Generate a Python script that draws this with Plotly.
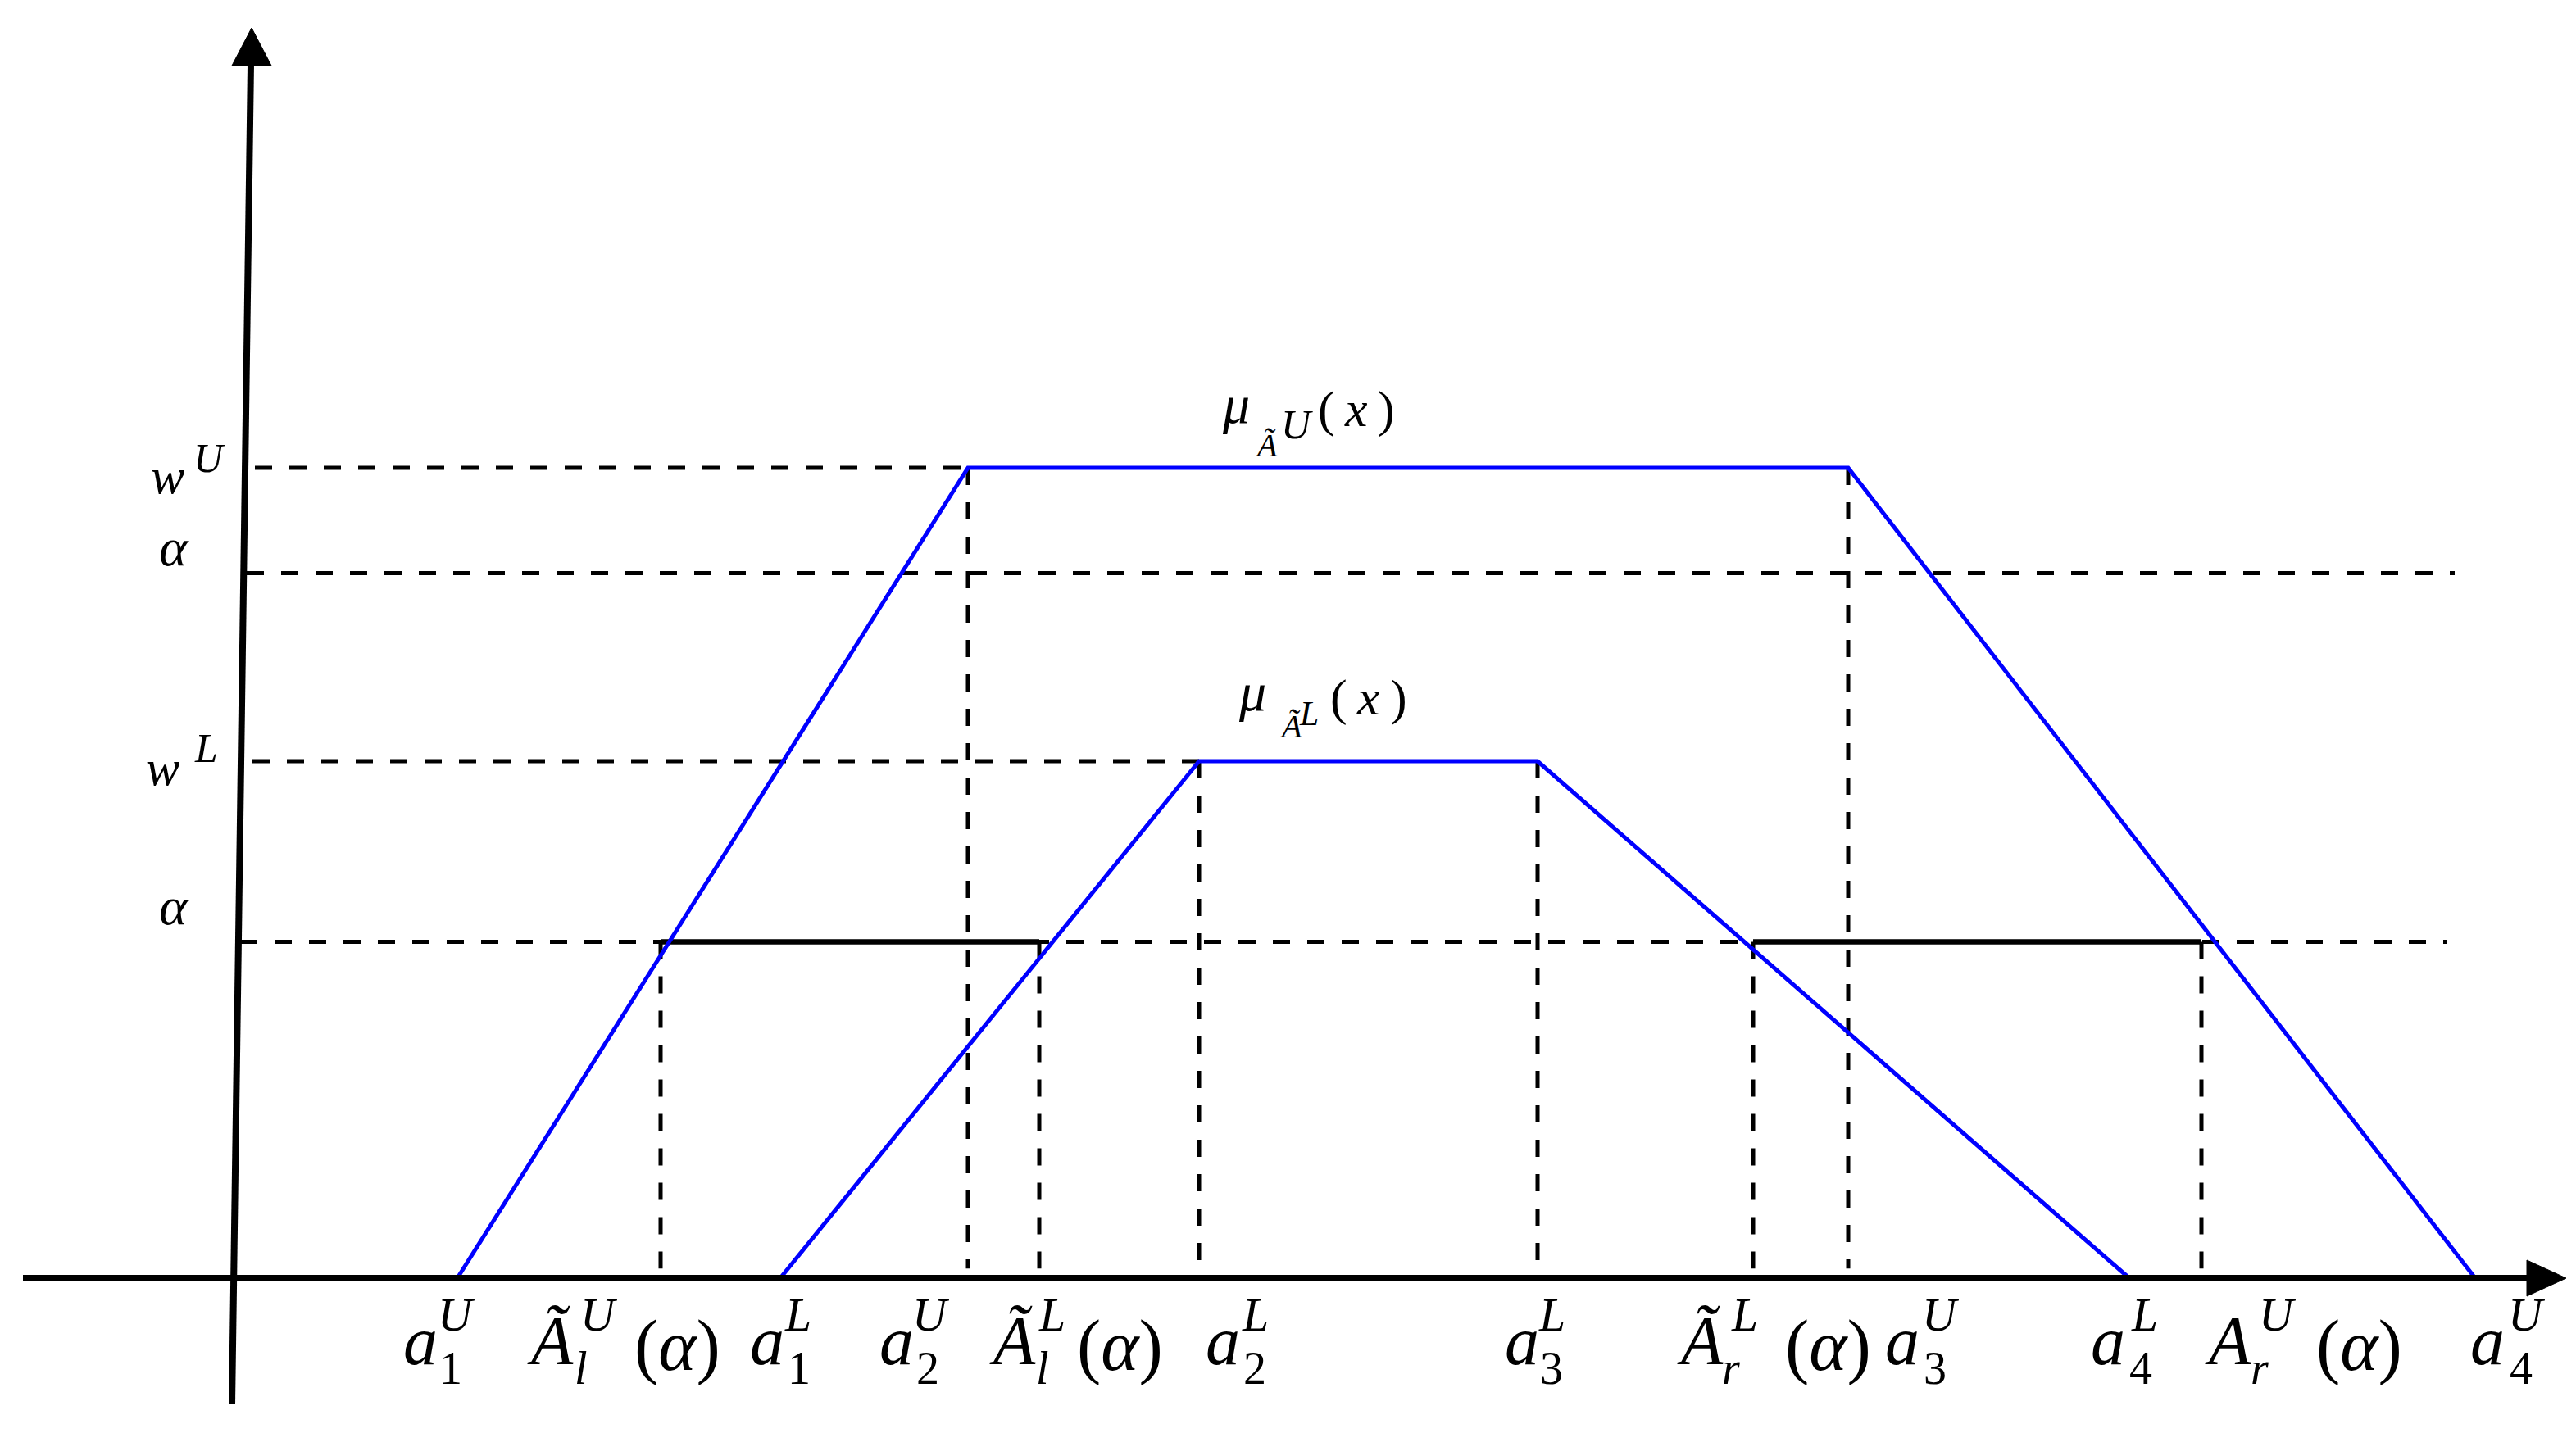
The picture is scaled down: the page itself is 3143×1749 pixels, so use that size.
"""
Interval type-2 trapezoidal fuzzy number with alpha cuts (upper / lower MF).
"""

import plotly.graph_objects as go


# --- values (x in arbitrary units, y = membership) ---
A_U = [1.35, 4.465, 9.835, 13.66]     # a1U .. a4U
A_L = [3.32, 5.875, 7.94, 11.55]      # a1L .. a4L
W_U = 1.0
W_L = 0.638
ALPHA_HI = 0.870
ALPHA_LO = 0.415
CUT_LO = [2.59, 4.90, 9.255, 11.99]   # A_l^U, A_l^L, A_r^L, A_r^U at alpha


W, H = 3143, 1749
X0, XS = 280, 200      # px of x=0, px per x unit
Y0, YS = 1552, 989     # px of y=0, px per y unit
FONT = 'Liberation Serif, Times New Roman, serif'
BLUE = '#0000ff'
DASH = '21px,21px'

px2x = lambda p: (p - X0) / XS
py2y = lambda p: (Y0 - p) / YS


fig = go.Figure()

# horizontal guide lines (levels) - dashed
levels = [W_U, ALPHA_HI, W_L, ALPHA_LO]
starts = [0.115, 0.065, 0.10, 0.025]
ends = [A_U[1], 13.535, A_L[1], 13.485]
for lv, x0, x1 in zip(levels, starts, ends):
    fig.add_trace(go.Scatter(x=[x0, x1], y=[lv, lv], mode='lines',
                             line=dict(color='black', width=5, dash=DASH)))

# vertical drop lines - dashed
drops = [(CUT_LO[0], ALPHA_LO), (A_U[1], W_U), (CUT_LO[1], ALPHA_LO), (A_L[1], W_L),
         (A_L[2], W_L), (CUT_LO[2], ALPHA_LO), (A_U[2], W_U), (CUT_LO[3], ALPHA_LO)]
for xv, lv in drops:
    fig.add_trace(go.Scatter(x=[xv, xv], y=[lv, 0.012], mode='lines',
                             line=dict(color='black', width=5, dash=DASH)))

# alpha-cut intervals - solid black
for x0, x1 in [(CUT_LO[0], CUT_LO[1]), (CUT_LO[2], CUT_LO[3])]:
    fig.add_trace(go.Scatter(x=[x0, x1], y=[ALPHA_LO, ALPHA_LO], mode='lines',
                             line=dict(color='black', width=6.5)))

# upper and lower membership functions
fig.add_trace(go.Scatter(x=A_U, y=[0, W_U, W_U, 0], mode='lines', line=dict(color=BLUE, width=5)))
fig.add_trace(go.Scatter(x=A_L, y=[0, W_L, W_L, 0], mode='lines', line=dict(color=BLUE, width=5)))


# axes with arrow heads
shapes = [
    dict(type='line', x0=px2x(20), y0=0, x1=px2x(3080), y1=0, line=dict(color='black', width=8)),
    dict(type='path', path=f'M {px2x(3075)},{py2y(Y0-22)} L {px2x(3123)},0 L {px2x(3075)},{py2y(Y0+22)} Z',
         fillcolor='black', line=dict(color='black', width=1)),
    dict(type='line', x0=px2x(275), y0=py2y(1706), x1=px2x(298), y1=py2y(70), line=dict(color='black', width=8)),
    dict(type='path', path=f'M {px2x(275)},{py2y(72)} L {px2x(299)},{py2y(26)} L {px2x(323)},{py2y(72)} Z',
         fillcolor='black', line=dict(color='black', width=1)),
]
for s in shapes:
    s.update(xref='x', yref='y', layer='above')
    fig.add_shape(**s)


def txt(s, left, base, size):
    # place text by the left edge and baseline (in pixels)
    fig.add_annotation(text=s, xref='paper', yref='paper', x=left / W,
                       y=1 - (base - 0.3375 * size) / H, xanchor='left', yanchor='middle',
                       showarrow=False, borderpad=0, borderwidth=0,
                       font=dict(family=FONT, size=size, color='black'))


# x-axis labels: base, sub, sup, suffix and their left edges
BASE, SUB, SUP, SUF = 84, 56, 58, 88
labels = [
    ('a', '1', 'U', None, 484, 528, 526, None),
    ('Ã', '<i>l</i>', 'U', '(<i>α</i>)', 635, 693, 700, 766),
    ('a', '1', 'L', None, 907, 953, 949, None),
    ('a', '2', 'U', None, 1065, 1110, 1105, None),
    ('Ã', '<i>l</i>', 'L', '(<i>α</i>)', 1199, 1256, 1259, 1306),
    ('a', '2', 'L', None, 1463, 1509, 1507, None),
    ('a', '3', 'L', None, 1828, 1871, 1869, None),
    ('Ã', '<i>r</i>', 'L', '(<i>α</i>)', 2038, 2093, 2104, 2170),
    ('a', '3', 'U', None, 2292, 2339, 2337, None),
    ('a', '4', 'L', None, 2543, 2590, 2592, None),
    ('A', '<i>r</i>', 'U', '(<i>α</i>)', 2682, 2738, 2748, 2818),
    ('a', '4', 'U', None, 3006, 3054, 3052, None),
]
for base, sub, sup, suf, xb, xs, xp, xf in labels:
    txt(f'<i>{base}</i>', xb, 1657, BASE)
    txt(sub, xs, 1681, SUB)
    txt(f'<i>{sup}</i>', xp, 1616, SUP)
    if suf:
        txt(suf, xf, 1664, SUF)

# y-axis labels
txt('<i>w</i>', 176, 594, 62)
txt('<i>U</i>', 228, 568, 50)
txt('<i>α</i>', 186, 682, 66)
txt('<i>w</i>', 170, 950, 62)
txt('<i>L</i>', 229, 922, 50)
txt('<i>α</i>', 186, 1120, 66)

# membership function names
txt('<i>μ</i>', 1483, 508, 66)
txt('<i>Ã</i>', 1523, 549, 40)
txt('<i>U</i>', 1555, 527, 50)
txt('(\u2009<i>x</i>\u2009)', 1600, 512, 62)
txt('<i>μ</i>', 1503, 859, 66)
txt('<i>Ã</i>', 1553, 892, 40)
txt('<i>L</i>', 1577, 877, 42)
txt('(\u2009<i>x</i>\u2009)', 1615, 864, 62)


fig.update_layout(width=W, height=H, margin=dict(l=0, r=0, t=0, b=0), showlegend=False,
                  plot_bgcolor='white', paper_bgcolor='white',
                  xaxis=dict(range=[px2x(0), px2x(W)], visible=False, fixedrange=True),
                  yaxis=dict(range=[py2y(H), py2y(0)], visible=False, fixedrange=True))
fig.write_html("out.html")
